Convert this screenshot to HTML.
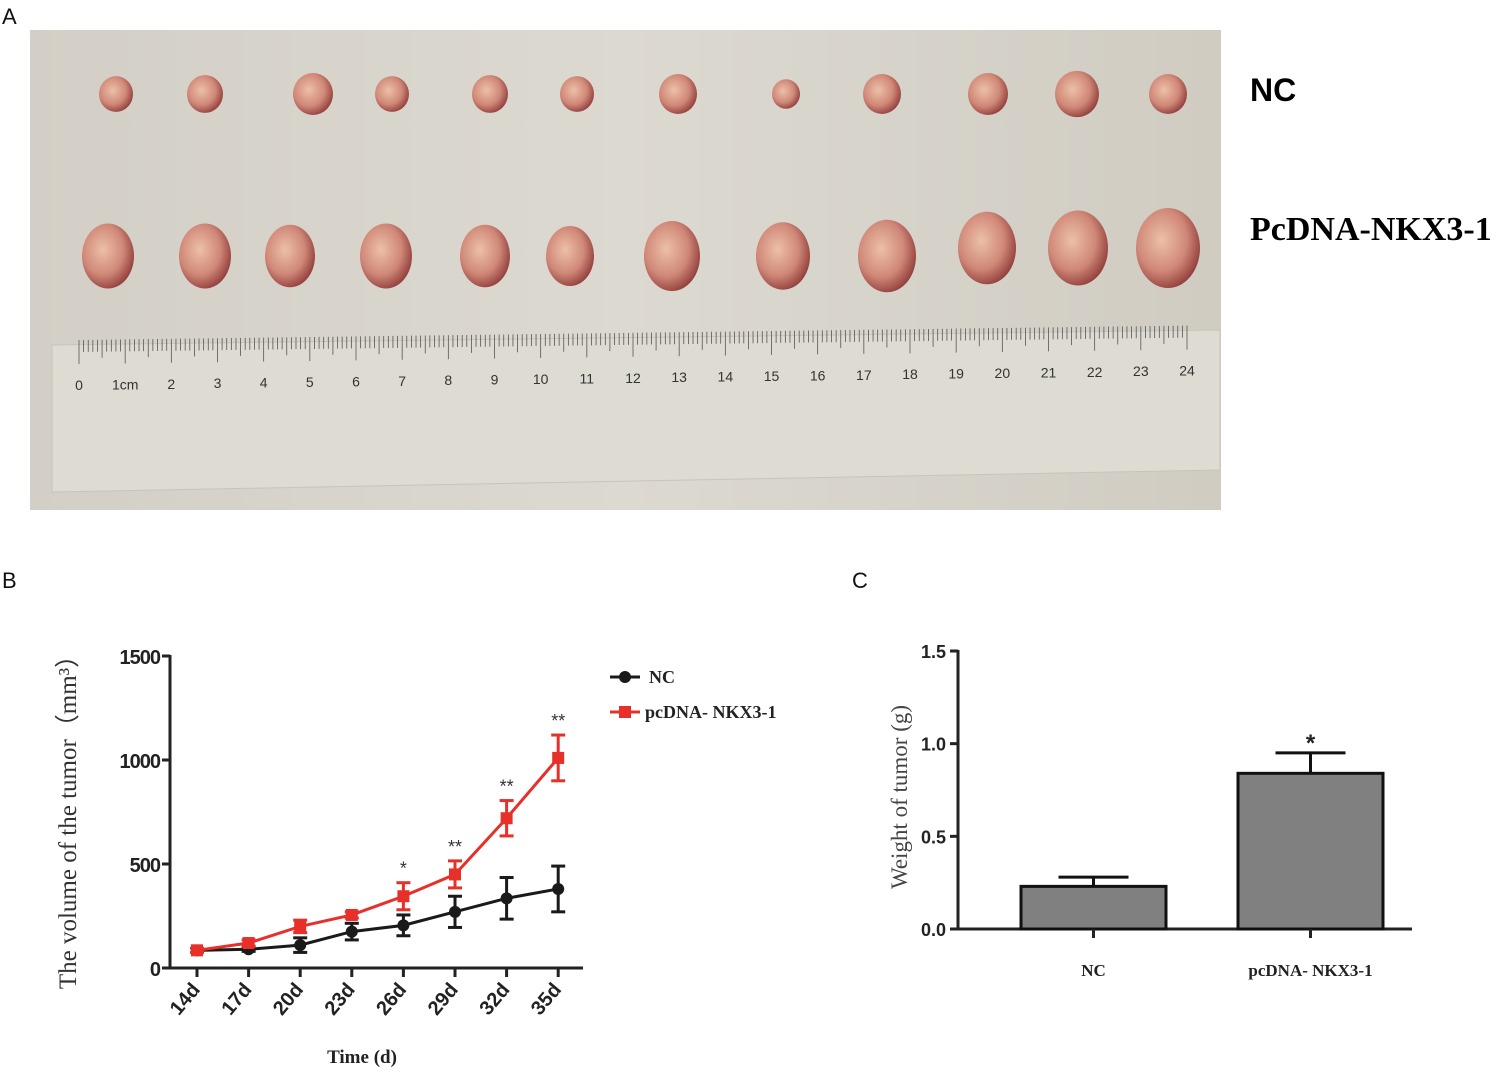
<!DOCTYPE html>
<html><head><meta charset="utf-8"><style>
body{margin:0;background:#fff;width:1512px;height:1091px;overflow:hidden;position:relative;font-family:"Liberation Sans",sans-serif}
.lbl{position:absolute;font-size:22px;color:#111}
</style></head><body>
<div class="lbl" style="left:2px;top:4px">A</div>
<div class="lbl" style="left:2px;top:568px">B</div>
<div class="lbl" style="left:852px;top:568px">C</div>
<svg width="1512" height="1091" style="position:absolute;left:0;top:0">
<defs>
<radialGradient id="tum" cx="40%" cy="40%" r="65%"><stop offset="0" stop-color="#ecc0a8"/><stop offset="0.6" stop-color="#d08878"/><stop offset="1" stop-color="#903c3a"/></radialGradient>
<linearGradient id="bg" x1="0" x2="1"><stop offset="0" stop-color="#d3cfc6"/><stop offset="0.5" stop-color="#dcd9d1"/><stop offset="1" stop-color="#d0ccc2"/></linearGradient>
</defs>
<g>
<rect x="30" y="30" width="1191" height="480" fill="url(#bg)"/>
<polygon points="52,345 1220,330 1220,470 52,492" fill="#dedbd3" stroke="#c8c4ba"/>
<g id="ticks"></g>
<g id="tumors"></g>
</g>
<text x="1250" y="101" font-family="Liberation Sans" font-weight="bold" font-size="32">NC</text>
<text x="1250" y="240" font-family="Liberation Serif" font-weight="bold" font-size="34">PcDNA-NKX3-1</text>
<g id="lineChart"></g>
<g id="barChart"></g>
</svg>
<script>
// ---- data ----
const days = ["14d","17d","20d","23d","26d","29d","32d","35d"];
const ncVol = [85,90,110,175,205,270,335,380];
const ncErr = [0,10,35,40,50,75,100,110];
const pcVol = [85,120,200,255,345,450,720,1010];
const pcErr = [10,15,30,15,65,65,85,110];
const sig = ["","","","","*","**","**","**"];
const volTicks = [0,500,1000,1500];
const groups = ["NC","pcDNA- NKX3-1"];
const weights = [0.23,0.84];
const weightErr = [0.05,0.11];
const weightTicks = ["0.0","0.5","1.0","1.5"];
const topSizes = [17,18,20,17,18,17,19,14,19,20,22,19];
const botSizes = [26,26,25,26,25,24,28,27,29,29,30,32];

const NS="http://www.w3.org/2000/svg";
function mk(parent,tag,attrs,text){const e=document.createElementNS(NS,tag);for(const k in attrs)e.setAttribute(k,attrs[k]);if(text!==undefined)e.textContent=text;parent.appendChild(e);return e;}

// ---- photo ----
const tg=document.getElementById('ticks');
for(let i=0;i<=240;i++){const x=79+i*(1187-79)/240;const yb=348-i*0.06;const L=i%10==0?24:(i%5==0?18:12);
 mk(tg,'line',{x1:x,x2:x,y1:yb-8,y2:yb-8+L,stroke:'#555','stroke-width':0.8});
 if(i%10==0){const t=mk(tg,'text',{x:x,y:yb+42,'font-size':14,'text-anchor':'middle',fill:'#333'},i==10?'1cm':String(i/10));
 
 }}
const tm=document.getElementById('tumors');
const tx=[116,205,313,392,490,577,678,786,882,988,1077,1168];
const bx=[108,205,290,386,485,570,672,783,887,987,1078,1168];
topSizes.forEach((s,i)=>{const e=mk(tm,'ellipse',{cx:tx[i],cy:94,rx:s,ry:s*1.05,fill:'url(#tum)'});
 
 });
botSizes.forEach((s,i)=>{const e=mk(tm,'ellipse',{cx:bx[i],cy:256-(i>8?8:0),rx:s,ry:s*1.25,fill:'url(#tum)'});
 
 });

// ---- line chart ----
const lc=document.getElementById('lineChart');
const yV=v=>968-v*(312/1500);
const xD=i=>197+i*51.6;
mk(lc,'line',{x1:170,x2:170,y1:655,y2:969,stroke:'#222','stroke-width':3});
mk(lc,'line',{x1:169,x2:583,y1:968,y2:968,stroke:'#222','stroke-width':3});
volTicks.forEach(v=>{mk(lc,'line',{x1:162,x2:170,y1:yV(v),y2:yV(v),stroke:'#222','stroke-width':3});
 const t=mk(lc,'text',{x:160,y:yV(v)+8,'text-anchor':'end','font-size':20,'font-weight':'bold',fill:'#222','letter-spacing':-1},String(v));
 
 });
days.forEach((d,i)=>{mk(lc,'line',{x1:xD(i),x2:xD(i),y1:968,y2:977,stroke:'#222','stroke-width':3});
 const t=mk(lc,'text',{x:xD(i)+4,y:990,'text-anchor':'end','font-size':20,'font-weight':'bold',fill:'#222',transform:`rotate(-50 ${xD(i)+4} 990)`},d);
 
 });
function series(vals,errs,color,marker,name){
 const g=mk(lc,'g',{});
 
 
 mk(g,'polyline',{points:vals.map((v,i)=>xD(i)+','+yV(v)).join(' '),fill:'none',stroke:color,'stroke-width':3});
 vals.forEach((v,i)=>{if(errs[i]>0){const a=yV(v+errs[i]),b=yV(v-errs[i]);
  mk(g,'line',{x1:xD(i),x2:xD(i),y1:a,y2:b,stroke:color,'stroke-width':3});
  mk(g,'line',{x1:xD(i)-7,x2:xD(i)+7,y1:a,y2:a,stroke:color,'stroke-width':3});
  mk(g,'line',{x1:xD(i)-7,x2:xD(i)+7,y1:b,y2:b,stroke:color,'stroke-width':3});}
  if(marker=='c')mk(g,'circle',{cx:xD(i),cy:yV(v),r:6,fill:color});
  else mk(g,'rect',{x:xD(i)-6,y:yV(v)-6,width:12,height:12,fill:color});});
}
series(ncVol,ncErr,'#1a1a1a','c','nc-series');
series(pcVol,pcErr,'#e8302a','s','pcdna-series');
sig.forEach((s,i)=>{if(s){const t=mk(lc,'text',{x:xD(i),y:yV(pcVol[i]+pcErr[i])-8,'text-anchor':'middle','font-size':18,fill:'#333'},s);
 
 }});
let t=mk(lc,'text',{x:0,y:0,'font-family':'Liberation Serif','font-size':25,fill:'#333',transform:'translate(76 816) rotate(-90)','text-anchor':'middle'},'The volume of the tumor（mm³）');

t=mk(lc,'text',{x:362,y:1063,'font-family':'Liberation Serif','font-size':19,'font-weight':'bold','text-anchor':'middle',fill:'#222'},'Time (d)');

const lg=mk(lc,'g',{});


mk(lg,'line',{x1:610,x2:640,y1:677,y2:677,stroke:'#1a1a1a','stroke-width':3});
mk(lg,'circle',{cx:625,cy:677,r:6,fill:'#1a1a1a'});
mk(lg,'text',{x:649,y:683,'font-family':'Liberation Serif','font-size':18,'font-weight':'bold',fill:'#222'},'NC');
mk(lg,'line',{x1:610,x2:640,y1:712,y2:712,stroke:'#e8302a','stroke-width':3});
mk(lg,'rect',{x:619,y:706,width:12,height:12,fill:'#e8302a'});
mk(lg,'text',{x:645,y:718,'font-family':'Liberation Serif','font-size':18,'font-weight':'bold',fill:'#222'},'pcDNA- NKX3-1');

// ---- bar chart ----
const bc=document.getElementById('barChart');
const yW=v=>929-v*(278/1.5);
const barX=[1021,1238], barW=145;
mk(bc,'line',{x1:958,x2:958,y1:650,y2:930,stroke:'#222','stroke-width':3});
mk(bc,'line',{x1:957,x2:1412,y1:929,y2:929,stroke:'#222','stroke-width':3});
weightTicks.forEach(v=>{const y=yW(parseFloat(v));mk(bc,'line',{x1:950,x2:958,y1:y,y2:y,stroke:'#222','stroke-width':3});
 const t=mk(bc,'text',{x:946,y:y+7,'text-anchor':'end','font-size':18,'font-weight':'bold',fill:'#222'},v);
 
 });
weights.forEach((w,i)=>{const cx=barX[i]+barW/2;
 const top=yW(w+weightErr[i]);
 mk(bc,'line',{x1:cx,x2:cx,y1:top,y2:yW(w),stroke:'#111','stroke-width':3});
 mk(bc,'line',{x1:cx-35,x2:cx+35,y1:top,y2:top,stroke:'#111','stroke-width':3});
 const r=mk(bc,'rect',{x:barX[i],y:yW(w),width:barW,height:929-yW(w),fill:'#808080',stroke:'#111','stroke-width':3});
 
 
 mk(bc,'line',{x1:cx,x2:cx,y1:929,y2:938,stroke:'#222','stroke-width':3});
 const t=mk(bc,'text',{x:cx,y:976,'text-anchor':'middle','font-family':'Liberation Serif','font-size':17,'font-weight':'bold',fill:'#222'},groups[i]);
 
 });
t=mk(bc,'text',{x:barX[1]+barW/2,y:yW(weights[1]+weightErr[1])-2,'text-anchor':'middle','font-size':24,'font-weight':'bold',fill:'#222'},'*');

t=mk(bc,'text',{x:0,y:0,'font-family':'Liberation Serif','font-size':23,fill:'#444',transform:'translate(907 797) rotate(-90)','text-anchor':'middle'},'Weight of tumor (g)');

</script>
</body></html>
